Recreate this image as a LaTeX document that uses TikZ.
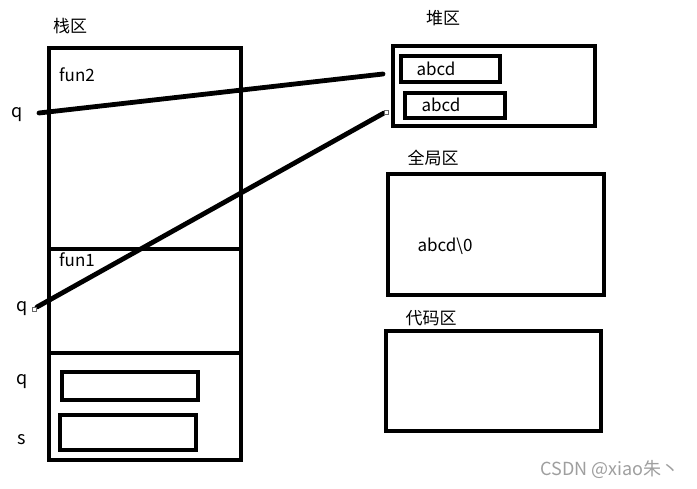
\documentclass[tikz,border=0pt]{standalone}
\usepackage{fontspec}
\setmainfont{Noto Sans CJK SC}
\begin{document}
\begin{tikzpicture}[x=1pt,y=-1pt,
  thick box/.style={draw=black,line width=4.5pt,inner sep=0pt},
  lbl/.style={font=\fontsize{17}{20}\selectfont,inner sep=0pt,anchor=center},
  wire/.style={draw=black,line width=4.8pt,line cap=round},
  tip/.style={draw=gray!80!black,fill=white,line width=0.6pt,minimum size=4pt,inner sep=0pt}]
\useasboundingbox[fill=white] (0,0) rectangle (697,489);
% stack
\draw[thick box] (49,48) rectangle (241,460);
\draw[line width=4.5pt] (49,249) -- (241,249);
\draw[line width=4.5pt] (49,353) -- (241,353);
\draw[thick box] (62,372) rectangle (198,400);
\draw[thick box] (60,415) rectangle (196,450);
\node[lbl] (stack) at (70,26) {栈区};
\node[lbl] (fun2) at (77,75) {fun2};
\node[lbl] (fun1) at (77,260) {fun1};
\node[lbl,font=\fontsize{18}{20}\selectfont] (q1) at (17,115) {q};
\node[lbl,font=\fontsize{18}{20}\selectfont] (q2) at (22,309) {q};
\node[lbl,font=\fontsize{18}{20}\selectfont] (q3) at (22,382) {q};
\node[lbl,font=\fontsize{18}{20}\selectfont] (s) at (22,440) {s};
% heap
\draw[thick box] (393,46) rectangle (595,126);
\draw[thick box] (401,56) rectangle (500,82);
\draw[thick box] (405,93) rectangle (505,118);
\node[lbl] (heap) at (443,18) {堆区};
\node[lbl] (a1) at (436,69) {abcd};
\node[lbl] (a2) at (441,105) {abcd};
% global
\draw[thick box] (388,174) rectangle (604,295);
\node[lbl] (glob) at (433,158) {全局区};
\node[lbl] (a3) at (445,246) {abcd\textbackslash 0};
% code
\draw[thick box] (386,331) rectangle (601,431);
\node[lbl] (code) at (431,318) {代码区};
% pointers
\coordinate (p1s) at (39,113);
\coordinate (p1e) at (383,74);
\coordinate (p2s) at (37,307);
\coordinate (p2e) at (384,113);
\draw[wire] (p1s) -- (p1e);
\draw[wire] (p2s) -- (p2e);
\node[tip] (t1) at (34,309) {};
\node[tip] (t2) at (386,112) {};
% watermark
\node[font=\fontsize{18}{20}\selectfont,text=gray!75,inner sep=0pt] (wm) at (610,470) {CSDN @xiao朱丶};
\end{tikzpicture}
\end{document}
